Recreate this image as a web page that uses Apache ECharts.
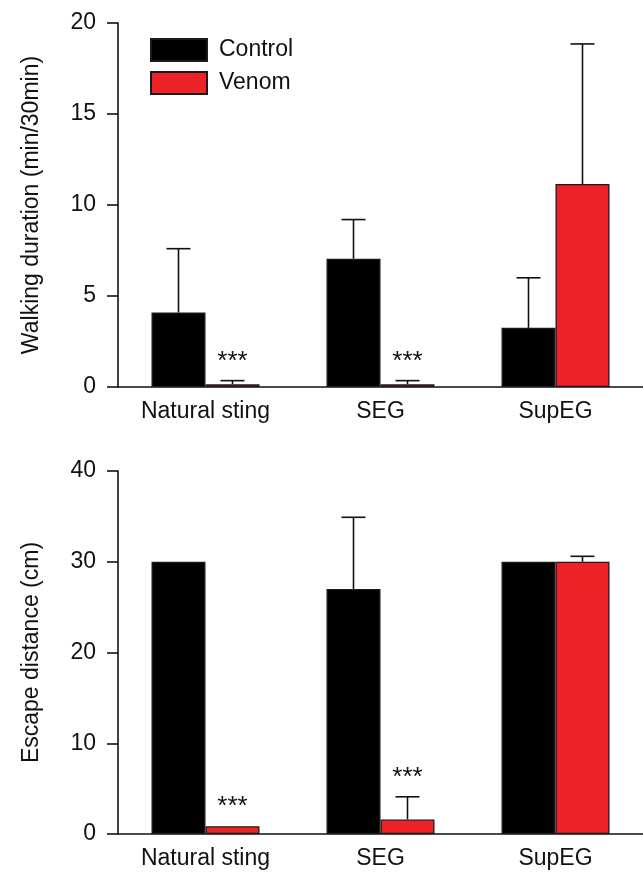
<!DOCTYPE html>
<html>
<head>
<meta charset="utf-8">
<script src="https://cdn.jsdelivr.net/npm/echarts@6/dist/echarts.min.js"></script>
<style>
html,body{margin:0;padding:0;background:#fff;}
#chart{width:643px;height:872px;}
</style>
</head>
<body>
<div id="chart"></div>
<script>
var categories = ['Natural sting', 'SEG', 'SupEG'];
var seriesNames = ['Control', 'Venom'];

var walkControl = [4.1, 7.05, 3.25];
var walkControlUpper = [7.6, 9.2, 6.0];
var walkVenom = [0.15, 0.15, 11.15];
var walkVenomUpper = [0.35, 0.35, 18.85];
var walkVenomSig = ['***', '***', ''];

var escControl = [30, 27, 30];
var escControlUpper = [null, 34.9, null];
var escVenom = [0.85, 1.6, 30];
var escVenomUpper = [null, 4.1, 30.6];
var escVenomSig = ['***', '***', ''];

var walkTicks = [0, 5, 10, 15, 20];
var escTicks = [0, 10, 20, 30, 40];

var FONT = 'Liberation Sans, Arial, sans-serif';
var FS = 23;
var BAR_W = 54;
var RED = '#EC2227';

function errData(means, uppers, sigs) {
  return means.map(function (m, i) {
    return [i, m, uppers[i] == null ? m : uppers[i], sigs ? sigs[i] : '', uppers[i] == null ? 0 : 1];
  });
}

function errSeries(gridIdx, means, uppers, sigs, side) {
  return {
    type: 'custom',
    xAxisIndex: gridIdx,
    yAxisIndex: gridIdx,
    silent: true,
    z: 5,
    data: errData(means, uppers, sigs),
    renderItem: function (params, api) {
      var idx = api.value(0);
      var mean = api.value(1);
      var up = api.value(2);
      var hasErr = api.value(4);
      var base = api.coord([idx, mean]);
      var top = api.coord([idx, up]);
      var x = base[0] + side * BAR_W / 2;
      var children = [];
      if (hasErr) {
        children.push({
          type: 'line',
          shape: { x1: x, y1: base[1], x2: x, y2: top[1] },
          style: { stroke: '#111', lineWidth: 1.6 }
        });
        children.push({
          type: 'line',
          shape: { x1: x - 12, y1: top[1], x2: x + 12, y2: top[1] },
          style: { stroke: '#111', lineWidth: 1.6 }
        });
      }
      var sig = sigs ? sigs[idx] : '';
      if (sig) {
        children.push({
          type: 'text',
          style: {
            text: sig, x: x, y: top[1] - 6,
            align: 'center', verticalAlign: 'bottom',
            font: '26px ' + FONT, fill: '#111'
          }
        });
      }
      return { type: 'group', children: children };
    }
  };
}

function barSeries(name, gridIdx, data, color) {
  return {
    name: name,
    type: 'bar',
    xAxisIndex: gridIdx,
    yAxisIndex: gridIdx,
    data: data,
    barWidth: BAR_W,
    barGap: '0%',
    itemStyle: { color: color, borderColor: '#1a1a1a', borderWidth: 1.3 }
  };
}

function yAxis(gridIdx, ticks, name) {
  return {
    type: 'value',
    gridIndex: gridIdx,
    min: ticks[0],
    max: ticks[ticks.length - 1],
    interval: ticks[1] - ticks[0],
    name: name,
    nameLocation: 'middle',
    nameGap: 75,
    nameTextStyle: { fontSize: FS, color: '#111', fontFamily: FONT },
    axisLine: { show: true, lineStyle: { color: '#111', width: 1.6 } },
    axisTick: { show: true, length: 11, lineStyle: { color: '#111', width: 1.6 } },
    axisLabel: { fontSize: FS, color: '#111', fontFamily: FONT, margin: 22 },
    splitLine: { show: false }
  };
}

function xAxis(gridIdx) {
  return {
    type: 'category',
    gridIndex: gridIdx,
    data: categories,
    axisLine: { show: true, lineStyle: { color: '#111', width: 1.6 } },
    axisTick: { show: false },
    axisLabel: { fontSize: FS, color: '#111', fontFamily: FONT, margin: 13 }
  };
}

var chart = echarts.init(document.getElementById('chart'), null, { renderer: 'canvas' });
chart.setOption({
  backgroundColor: '#fff',
  animation: false,
  legend: {
    data: seriesNames,
    left: 150,
    top: 38,
    padding: 0,
    orient: 'vertical',
    itemWidth: 56,
    itemHeight: 22,
    itemGap: 9,
    textStyle: { fontSize: FS, lineHeight: 22, color: '#111', fontFamily: FONT, padding: [0, 0, 0, 7] },
    icon: 'rect'
  },
  grid: [
    { left: 118, right: 0, top: 23, height: 364 },
    { left: 118, right: 0, top: 471, height: 363 }
  ],
  xAxis: [xAxis(0), xAxis(1)],
  yAxis: [yAxis(0, walkTicks, 'Walking duration (min/30min)'), yAxis(1, escTicks, 'Escape distance (cm)')],
  series: [
    barSeries(seriesNames[0], 0, walkControl, '#000'),
    barSeries(seriesNames[1], 0, walkVenom, RED),
    barSeries(seriesNames[0], 1, escControl, '#000'),
    barSeries(seriesNames[1], 1, escVenom, RED),
    errSeries(0, walkControl, walkControlUpper, null, -1),
    errSeries(0, walkVenom, walkVenomUpper, walkVenomSig, 1),
    errSeries(1, escControl, escControlUpper, null, -1),
    errSeries(1, escVenom, escVenomUpper, escVenomSig, 1)
  ]
});
</script>
</body>
</html>
